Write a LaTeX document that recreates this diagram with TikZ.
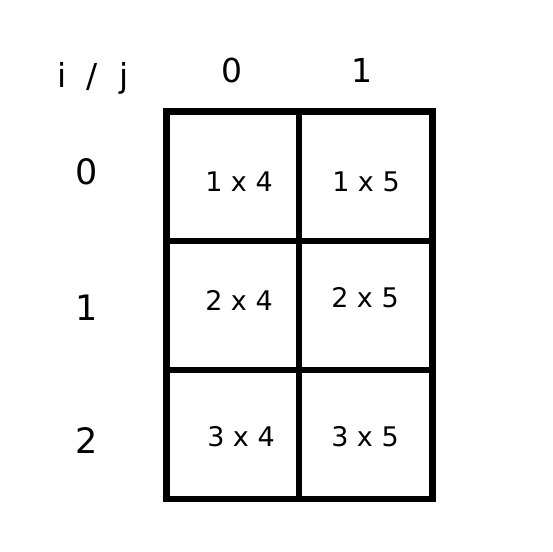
\documentclass[tikz,border=0pt]{standalone}
\usepackage{fontspec}
\setmainfont{DejaVu Sans}
\begin{document}
\begin{tikzpicture}[x=1pt,y=-1pt,
  cell/.style={anchor=base,inner sep=0pt,font=\fontsize{27}{30}\selectfont},
  rowlab/.style={anchor=base,inner sep=0pt,font=\fontsize{35}{40}\selectfont},
  collab/.style={anchor=base,inner sep=0pt,font=\fontsize{33}{38}\selectfont},
  gridline/.style={line width=6.5pt}]
\useasboundingbox (0,0) rectangle (553,551);
\fill[white] (0,0) rectangle (553,551);
% grid
\draw[gridline] (166.5,111.5) rectangle (432.5,499);
\draw[gridline] (299,111.5) -- (299,499);
\draw[gridline] (166.5,241) -- (432.5,241);
\draw[gridline] (166.5,370) -- (432.5,370);
% headers
\node[collab] (ij) at (93,87) {i\hspace{20pt}/\hspace{22pt}j};
\node[collab] (c0) at (232,82) {0};
\node[collab] (c1) at (362,82) {1};
\node[rowlab] (r0) at (87,184) {0};
\node[rowlab] (r1) at (87,320) {1};
\node[rowlab] (r2) at (87,453) {2};
% cells
\node[cell] (a00) at (239,191.5) {1 x 4};
\node[cell] (a01) at (366,191.5) {1 x 5};
\node[cell] (a10) at (239,310.5) {2 x 4};
\node[cell] (a11) at (365,307) {2 x 5};
\node[cell] (a20) at (241,446.5) {3 x 4};
\node[cell] (a21) at (365,446.5) {3 x 5};
\end{tikzpicture}
\end{document}
